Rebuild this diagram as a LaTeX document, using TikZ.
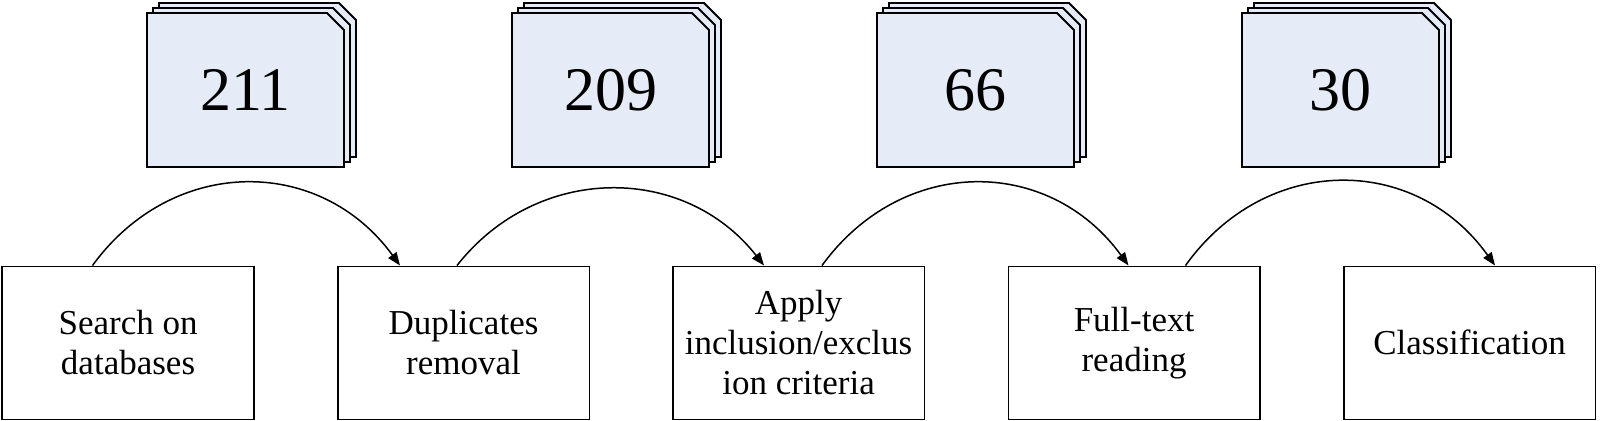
\documentclass[tikz,border=0pt]{standalone}
\usepackage{fontspec}
\setmainfont{Liberation Serif}
\usetikzlibrary{arrows.meta}
\definecolor{cardfill}{RGB}{230,236,247}
\tikzset{
  stepbox/.style={draw, line width=0.8pt, anchor=north west, minimum width=125.75pt, minimum height=76.5pt, inner sep=0pt, align=center, font=\fontsize{17.5}{20}\selectfont},
  card/.style={draw, line width=0.9pt, fill=cardfill, line join=miter},
  numtext/.style={inner sep=0pt, font=\fontsize{31}{36}\selectfont},
  arc/.style={draw, line width=0.75pt, -{Triangle[length=6.5pt,width=5pt]}}
}
\newcommand\cardstack[3]{%
  \foreach \d in {12,6,0} {
    \draw[card] (#1+\d, {13-\d*5/6}) -- ++(180,0) -- ++(17,17) -- ++(0,137) -- ++(-197,0) -- cycle;
  }
  \node[numtext] (#3) at (#1+98.5, 90) {#2};
}
\begin{document}
\begin{tikzpicture}[x=0.5pt, y=-0.5pt]
\useasboundingbox (0,0) rectangle (1600,420);
\cardstack{147}{211}{n1}
\cardstack{512}{209}{n2}
\cardstack{877}{66}{n3}
\cardstack{1242}{30}{n4}
\node[stepbox] (b1) at (1.5,265.5) {Search on\\databases};
\node[stepbox] (b2) at (337,265.5) {Duplicates\\removal};
\node[stepbox] (b3) at (672,265.5) {Apply\\inclusion/exclus\\ion criteria};
\node[stepbox] (b4) at (1007.5,265.5) {Full-text\\reading};
\node[stepbox] (b5) at (1343,265.5) {Classification};
\draw[arc] ([xshift=45.5pt]b1.north west) .. controls +(40pt,55pt) and +(-40pt,55pt) .. ([xshift=31.5pt]b2.north west);
\draw[arc] ([xshift=60pt]b2.north west) .. controls +(40pt,51pt) and +(-40pt,51pt) .. ([xshift=46pt]b3.north west);
\draw[arc] ([xshift=75pt]b3.north west) .. controls +(40pt,55pt) and +(-40pt,55pt) .. ([xshift=60.5pt]b4.north west);
\draw[arc] ([xshift=89pt]b4.north west) .. controls +(40pt,56pt) and +(-40pt,56pt) .. ([xshift=76pt]b5.north west);
\end{tikzpicture}
\end{document}
